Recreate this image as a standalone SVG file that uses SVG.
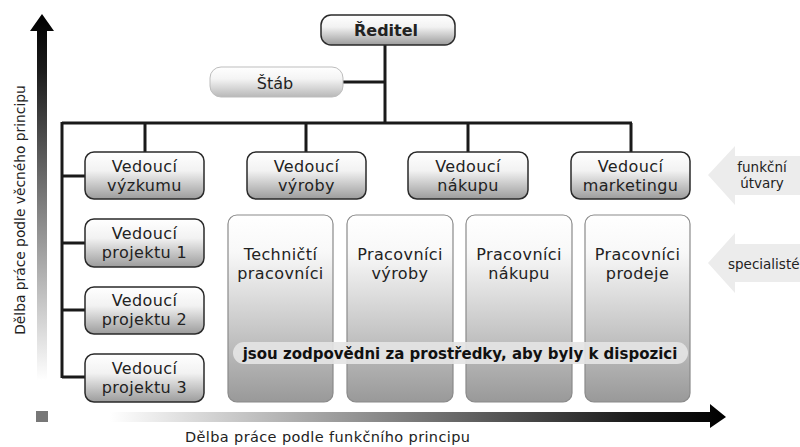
<svg xmlns="http://www.w3.org/2000/svg" width="800" height="447" viewBox="0 0 800 447">
<defs>
<linearGradient id="gNode" x1="0" y1="0" x2="0" y2="1">
<stop offset="0" stop-color="#ffffff"/>
<stop offset="0.4" stop-color="#f2f2f2"/>
<stop offset="1" stop-color="#9c9c9c"/>
</linearGradient>
<linearGradient id="gStab" x1="0" y1="0" x2="0" y2="1">
<stop offset="0" stop-color="#ffffff"/>
<stop offset="0.4" stop-color="#f4f4f4"/>
<stop offset="1" stop-color="#b8b8b8"/>
</linearGradient>
<linearGradient id="gTall" x1="0" y1="0" x2="0" y2="1">
<stop offset="0" stop-color="#ffffff"/>
<stop offset="0.2" stop-color="#f8f8f8"/>
<stop offset="1" stop-color="#999999"/>
</linearGradient>
<linearGradient id="gV" x1="0" y1="0" x2="0" y2="1">
<stop offset="0" stop-color="#000000"/>
<stop offset="0.15" stop-color="#1a1a1a"/>
<stop offset="1" stop-color="#ffffff"/>
</linearGradient>
<linearGradient id="gH" x1="0" y1="0" x2="1" y2="0">
<stop offset="0" stop-color="#ffffff"/>
<stop offset="0.85" stop-color="#1a1a1a"/>
<stop offset="1" stop-color="#000000"/>
</linearGradient>
<style>
.node rect{fill:url(#gNode);stroke:#2a2a2a;stroke-width:1.5}
.tall rect{fill:url(#gTall);stroke:#8a8a8a;stroke-width:1.2}
text{font-family:"DejaVu Sans",Verdana,sans-serif;fill:#222}
.t{font-size:16px;letter-spacing:0.4px;text-anchor:middle}
.s{font-size:13.5px;text-anchor:middle}
.c{stroke:#1a1a1a;stroke-width:3;fill:none}
</style>
</defs>
<rect width="800" height="447" fill="#ffffff"/>

<!-- side arrows -->
<polygon points="708,175 735,146 735,156 800,156 800,195 735,195 735,205" fill="#ececec"/>
<polygon points="708,263 735,233 735,244 800,244 800,282 735,282 735,293" fill="#ececec"/>
<text class="s" x="762" y="172">funkční</text>
<text class="s" x="762" y="188">útvary</text>
<text style="font-size:13.5px" x="728" y="269">specialisté</text>

<!-- axes -->
<polygon points="42,14 54,31 47,31 47,380 37,380 37,31 30,31" fill="url(#gV)"/>
<polygon points="110,412 710,412 710,404 726,417 710,428 710,422 110,422" fill="url(#gH)"/>
<rect x="36" y="411" width="12" height="11" fill="#777777"/>
<text style="font-size:13.8px;text-anchor:middle" transform="translate(25,210) rotate(-90)" x="0" y="0">Dělba práce podle věcného principu</text>
<text style="font-size:14.5px" x="185" y="442" textLength="285" lengthAdjust="spacing">Dělba práce podle funkčního principu</text>

<!-- connectors -->
<g id="connectors">
<path class="c" d="M385,45 V123"/>
<path class="c" d="M343,82 H385"/>
<path class="c" d="M62,123 H632"/>
<path class="c" d="M145,123 V152 M306,123 V152 M468,123 V152 M631,123 V152"/>
<path class="c" d="M62,122 V378"/>
<path class="c" d="M62,176 H85 M62,243 H85 M62,310 H85 M62,377 H85"/>
</g>

<g id="reditel" class="node"><rect x="321" y="15" width="134" height="30" rx="10"/><text class="t" x="386" y="36" style="font-weight:bold;letter-spacing:0">Ředitel</text></g>
<g id="stab"><rect x="210" y="67" width="133" height="30" rx="11" fill="url(#gStab)" stroke="#bdbdbd" stroke-width="1"/><text class="t" x="275" y="89" style="letter-spacing:0">Štáb</text></g>

<g id="v-vyzkumu" class="node"><rect x="85" y="152" width="119" height="47" rx="9"/><text class="t" x="144.5" y="171.5">Vedoucí</text><text class="t" x="144.5" y="190.5">výzkumu</text></g>
<g id="v-vyroby" class="node"><rect x="247" y="152" width="119" height="47" rx="9"/><text class="t" x="306.5" y="171.5">Vedoucí</text><text class="t" x="306.5" y="190.5">výroby</text></g>
<g id="v-nakupu" class="node"><rect x="408" y="152" width="120" height="47" rx="9"/><text class="t" x="468" y="171.5">Vedoucí</text><text class="t" x="468" y="190.5">nákupu</text></g>
<g id="v-marketingu" class="node"><rect x="571" y="152" width="119" height="47" rx="9"/><text class="t" x="630.5" y="171.5">Vedoucí</text><text class="t" x="630.5" y="190.5">marketingu</text></g>

<g id="projekt1" class="node"><rect x="85" y="219" width="119" height="48" rx="9"/><text class="t" x="144.5" y="238.5">Vedoucí</text><text class="t" x="144.5" y="257.5">projektu 1</text></g>
<g id="projekt2" class="node"><rect x="85" y="287" width="119" height="47" rx="9"/><text class="t" x="144.5" y="305.5">Vedoucí</text><text class="t" x="144.5" y="324.5">projektu 2</text></g>
<g id="projekt3" class="node"><rect x="85" y="354" width="119" height="48" rx="9"/><text class="t" x="144.5" y="373.5">Vedoucí</text><text class="t" x="144.5" y="392.5">projektu 3</text></g>

<g id="technicti" class="tall"><rect x="228" y="215" width="105" height="187" rx="9"/><text class="t" x="280.5" y="259.5">Techničtí</text><text class="t" x="280.5" y="278.5">pracovníci</text></g>
<g id="prac-vyroby" class="tall"><rect x="347" y="215" width="106" height="187" rx="9"/><text class="t" x="400" y="259.5">Pracovníci</text><text class="t" x="400" y="278.5">výroby</text></g>
<g id="prac-nakupu" class="tall"><rect x="466" y="215" width="106" height="187" rx="9"/><text class="t" x="519" y="259.5">Pracovníci</text><text class="t" x="519" y="278.5">nákupu</text></g>
<g id="prac-prodeje" class="tall"><rect x="585" y="215" width="105" height="187" rx="9"/><text class="t" x="637.5" y="259.5">Pracovníci</text><text class="t" x="637.5" y="278.5">prodeje</text></g>

<g id="banner"><rect x="233" y="342" width="455" height="22" rx="11" fill="#e4e4e4" fill-opacity="0.92"/><text x="460" y="359" style="font-size:15px;font-weight:bold;text-anchor:middle;fill:#111">jsou zodpovědni za prostředky, aby byly k dispozici</text></g>
</svg>
